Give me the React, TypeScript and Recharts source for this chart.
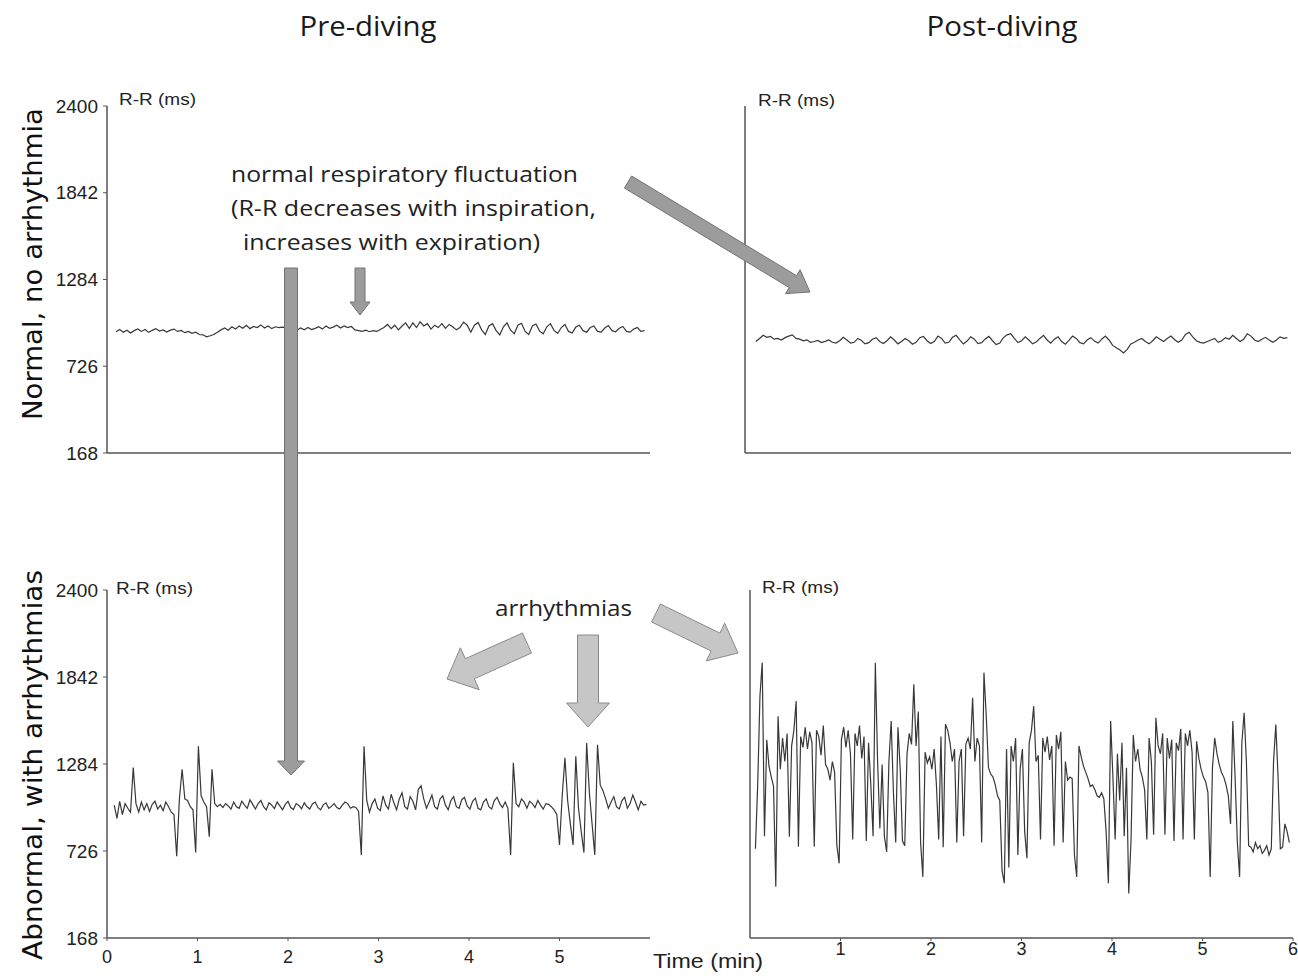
import React from 'react';
import { LineChart, Line, XAxis, YAxis } from 'recharts';

// ---------- axis definitions ----------
const Y_TICKS = [168, 726, 1284, 1842, 2400];
const X_TICKS_ALL = [0, 1, 2, 3, 4, 5, 6];
const BL_X_TICKS = [0, 1, 2, 3, 4, 5];
const BR_X_TICKS = [1, 2, 3, 4, 5, 6];

// ---------- Pre-diving, normal (R-R ms), sampled every 0.04 min from 0.10 min ----------
const TL_START = 0.1;
const TL_STEP = 0.04;
const tlRR = [
  948, 962, 945, 958, 940, 955, 966, 950, 962, 944, 957, 968, 952, 960, 946, 958, 965, 950, 956, 942,
  950, 938, 945, 930, 928, 915, 922, 930,
  945, 960, 972, 958, 980, 965, 985, 970, 990, 968, 982, 975, 992, 972, 985, 968, 980, 975, 978, 972,
  950, 965, 958, 972, 960, 975, 962, 970, 980, 965, 985, 970, 978, 990, 972, 985, 975, 982, 960, 955,
  950, 958, 948, 955, 950, 962, 975, 995, 968, 990, 960, 985, 1005,
  970, 1005, 975, 1012, 985, 1000, 965, 990, 975, 1000, 970, 995, 980, 960, 975, 1010, 990,
  945, 990, 1008, 960, 930, 985, 1000, 955, 928, 980, 1005, 958, 935, 990, 1002, 950, 930, 985, 998, 952,
  935, 980, 1000, 955, 938, 975, 995, 950, 940, 978, 990, 955, 945, 975, 985, 950, 945, 972, 988, 955,
  948, 970, 982, 950, 945, 965, 975, 950, 955,
];

// ---------- Post-diving, normal ----------
const TR_START = 0.12;
const TR_STEP = 0.04;
const trRR = [
  885, 905, 925, 912, 918, 900, 905, 895, 910, 920, 928, 905, 900, 890, 896, 880, 885, 892, 878, 886,
  895, 880, 875,
  890, 912, 895, 875, 880, 905, 892, 870, 878, 900, 910, 885, 872, 890, 915, 895, 870, 885, 905, 890,
  868, 880, 910, 918, 890, 872, 885, 920, 905, 875, 880, 912, 925, 895, 870, 888, 915, 900, 872, 878,
  902, 918, 890, 865, 875, 910, 928, 935, 905, 878, 890, 915, 895, 870, 882,
  905, 925, 895, 875, 900, 915, 885, 868, 892, 920, 905, 878, 870, 895, 910, 888, 875, 900, 920, 895,
  860, 845, 830, 812, 835, 870, 880, 895, 905, 885,
  870, 890, 915, 900, 885, 905, 920, 898, 880, 895, 930, 945, 915, 890, 880, 875, 885, 895, 905, 880,
  890, 910, 900, 925, 905, 885, 900, 935, 920, 895, 885, 900, 912, 895, 880, 895, 915, 905, 910,
];

// ---------- Pre-diving, abnormal ----------
const BL_START = 0.08;
const BL_STEP = 0.03;
const blRR = [
  1020, 935, 1045, 960, 1030, 1000, 975, 1262, 1030, 975,
  1040, 990, 1030, 980, 1025, 1045, 995, 1020, 985, 1040,
  1010, 975, 960, 692, 1060, 1250, 1060, 1050, 1010, 990,
  716, 1398, 1080, 1040, 1010, 818, 1250, 1030, 1010, 1025,
  1005, 1030, 1015, 995, 1040, 1010, 1000, 1045, 1020, 1000,
  1055, 1025, 995, 1030, 1050, 1010, 990, 1035, 1020, 998,
  1040, 1015, 990, 1025, 1045, 1005, 992, 1030, 1018, 996,
  1035, 1010, 995, 1028, 1040, 1006, 990, 1022, 1035, 1000,
  1012, 1030, 1005, 995, 1020, 1040, 1030, 1000, 1010, 1005,
  980, 700, 1398, 1050, 975, 1030,
  1060, 1000, 985, 1080, 1020, 995, 1090, 1035, 990, 1060,
  1100, 1010, 995, 1075, 1045, 990, 1120, 1145, 1060, 1000,
  1040, 1085, 1010, 995, 1060, 1080, 1020, 990, 1050, 1075,
  1010, 1000, 1055, 1070, 1015, 995, 1045, 1065, 1000, 990,
  1040, 1060, 1010, 995, 1050, 1070, 1030, 1005, 1040, 1000,
  700, 1292, 1030,
  1010, 1060, 1040, 1000, 1045, 1030, 1005, 1050, 1020, 995, 1030, 1025, 1010, 990,
  960, 765, 1080, 1324, 1050, 900, 765, 1334, 1000, 850, 716, 1419, 1100, 900, 701, 1408, 1150, 1113, 1060,
  1000, 1040, 1075, 1010, 995, 1050, 1070, 1000, 1030, 1085, 1040, 990, 1045, 1020, 1025,
];

// ---------- Post-diving, abnormal ----------
const BR_START = 0.06;
const BR_STEP = 0.025;
const brRR = [
  740, 1150, 1720, 1934, 820, 1440, 1270, 1200, 1140, 496,
  1590, 1250, 1450, 1300, 1480, 818, 1400, 1500, 1687, 754,
  1460, 1390, 1520, 1380, 1490, 1420, 754, 1500, 1460, 1340,
  1530, 1280, 1250, 1180, 1300, 1230, 760, 647, 1440, 1520,
  1390, 1500, 1350, 800, 1480, 1400, 1530, 1320, 1460, 790,
  1420, 1150, 820, 1934, 1300, 870, 1280, 820, 720, 1300,
  1560, 1100, 780, 1520, 1250, 790, 760, 1350, 1480, 1410,
  1795, 1400, 1620, 780, 560, 1360, 1290, 1330, 1250, 1380,
  1150, 800, 1460, 750, 1540, 1500, 1420, 1300, 1380, 780,
  1300, 1380, 820, 1410, 1450, 1380, 1709, 1300, 1450, 1400,
  780, 1870, 1600, 1260, 1220, 1200, 1150, 1080, 1050, 600,
  520, 1380, 620, 1400, 1300, 1450, 700, 1250, 1380, 850,
  680, 1420, 1500, 1655, 1300, 1340, 800, 1450, 1360, 1460,
  1310, 1400, 760, 1470, 1380, 1490, 780, 1300, 1180, 1200,
  1190, 700, 560, 1400, 1330, 1270, 1230, 1190, 1140, 1150,
  1120, 1080, 1070, 1100, 1060, 850, 520, 1560, 1200, 800,
  1350, 1050, 1420, 820, 1260, 453, 790, 1470, 1300, 1380,
  1250, 1200, 1120, 800, 1450, 1300, 830, 1580, 1400, 1350,
  1480, 830, 1450, 1320, 1440, 790, 1420, 1370, 1510, 800,
  1480, 1400, 1500, 1360, 800, 1430, 1320, 1250, 1200, 1170,
  1100, 560, 1260, 1450, 1350, 1280, 1230, 1200, 1150, 1080,
  900, 1560, 1200, 780, 560, 1420, 1612, 1300, 760, 750,
  720, 780, 740, 760, 710, 730, 760, 700, 740, 1300,
  1537, 1200, 740, 750, 900, 850, 780,
];

const build = (start: number, step: number, vals: number[]) =>
  vals.map((v, i) => ({ t: Math.round((start + i * step) * 1000) / 1000, v }));

const tlData = build(TL_START, TL_STEP, tlRR);
const trData = build(TR_START, TR_STEP, trRR);
const blData = build(BL_START, BL_STEP, blRR);
const brData = build(BR_START, BR_STEP, brRR);

// ---------- layout ----------
const YW = 60;
const XH = 40;
const MT = 10;
const MR = 8;
const AXIS = '#555';
const TICK_FONT = '"Liberation Sans", Arial, sans-serif';

type PanelProps = {
  plotLeft: number;
  plotTop: number;
  plotW: number;
  plotH: number;
  data: { t: number; v: number }[];
  yLabels: boolean;
  xTicks: number[];
  xLabels: boolean;
  xTickMargin?: number;
};

function Panel({ plotLeft, plotTop, plotW, plotH, data, yLabels, xTicks, xLabels, xTickMargin = 6 }: PanelProps) {
  const w = plotW + YW + MR;
  const h = plotH + MT + XH;
  return (
    <div style={{ position: 'absolute', left: plotLeft - YW, top: plotTop - MT, width: w, height: h }}>
      <LineChart width={w} height={h} data={data} margin={{ top: MT, right: MR, bottom: 0, left: 0 }}>
        <XAxis
          dataKey="t"
          type="number"
          domain={[0, 6]}
          ticks={xTicks}
          interval={0}
          allowDataOverflow
          height={XH}
          axisLine={{ stroke: AXIS, strokeWidth: 1.5 }}
          tickLine={{ stroke: AXIS, strokeWidth: 1 }}
          tickSize={3}
          tickMargin={xTickMargin}
          tick={xLabels ? { fill: '#222', fontSize: 18, fontFamily: TICK_FONT } : false}
        />
        <YAxis
          type="number"
          domain={[168, 2400]}
          ticks={Y_TICKS}
          interval={0}
          allowDataOverflow
          width={YW}
          axisLine={{ stroke: AXIS, strokeWidth: 1.5 }}
          tickLine={{ stroke: AXIS, strokeWidth: 1 }}
          tickSize={4}
          tickMargin={5}
          tick={yLabels ? { fill: '#222', fontSize: 19, fontFamily: TICK_FONT } : false}
        />
        <Line
          dataKey="v"
          type="linear"
          stroke="#383838"
          strokeWidth={1.2}
          dot={false}
          isAnimationActive={false}
        />
      </LineChart>
    </div>
  );
}

// ---------- annotation arrows ----------
type Arrow = { x1: number; y1: number; x2: number; y2: number; sw: number; hw: number; hl: number; light: boolean };
const ARROWS: Arrow[] = [
  { x1: 291, y1: 268, x2: 291, y2: 775, sw: 13, hw: 27, hl: 14, light: false },
  { x1: 360, y1: 268, x2: 360, y2: 315, sw: 10, hw: 20, hl: 13, light: false },
  { x1: 628, y1: 182, x2: 810, y2: 292, sw: 14, hw: 28, hl: 20, light: false },
  { x1: 527, y1: 643, x2: 447, y2: 679, sw: 22, hw: 46, hl: 25, light: true },
  { x1: 588, y1: 635, x2: 588, y2: 727, sw: 21, hw: 43, hl: 24, light: true },
  { x1: 656, y1: 613, x2: 738, y2: 653, sw: 20, hw: 42, hl: 25, light: true },
];

function arrowPoints(a: Arrow) {
  const dx = a.x2 - a.x1;
  const dy = a.y2 - a.y1;
  const L = Math.hypot(dx, dy);
  const ux = dx / L;
  const uy = dy / L;
  const px = -uy;
  const py = ux;
  const bx = a.x2 - ux * a.hl;
  const by = a.y2 - uy * a.hl;
  const pts = [
    [a.x1 + (px * a.sw) / 2, a.y1 + (py * a.sw) / 2],
    [bx + (px * a.sw) / 2, by + (py * a.sw) / 2],
    [bx + (px * a.hw) / 2, by + (py * a.hw) / 2],
    [a.x2, a.y2],
    [bx - (px * a.hw) / 2, by - (py * a.hw) / 2],
    [bx - (px * a.sw) / 2, by - (py * a.sw) / 2],
    [a.x1 - (px * a.sw) / 2, a.y1 - (py * a.sw) / 2],
  ];
  return pts.map((p) => `${p[0].toFixed(1)},${p[1].toFixed(1)}`).join(' ');
}

const NOTE_FONT = '"Open Sans", "Noto Sans", sans-serif';

export default function App() {
  return (
    <div style={{ position: 'absolute', left: 0, top: 0, width: 1298, height: 976, background: '#fff', overflow: 'hidden' }}>
      <Panel plotLeft={107} plotTop={106} plotW={543} plotH={347} data={tlData} yLabels xTicks={X_TICKS_ALL} xLabels={false} />
      <Panel plotLeft={745} plotTop={106} plotW={546} plotH={347} data={trData} yLabels={false} xTicks={X_TICKS_ALL} xLabels={false} />
      <Panel plotLeft={107} plotTop={590} plotW={543} plotH={348} data={blData} yLabels xTicks={BL_X_TICKS} xLabels xTickMargin={9} />
      <Panel plotLeft={750} plotTop={590} plotW={543} plotH={348} data={brData} yLabels={false} xTicks={BR_X_TICKS} xLabels xTickMargin={1} />

      <svg width={1298} height={976} style={{ position: 'absolute', left: 0, top: 0, pointerEvents: 'none' }}>
        {/* column titles */}
        <text x={368} y={36} textAnchor="middle" fontFamily={NOTE_FONT} fontSize={27} fill="#1a1a1a" textLength={137} lengthAdjust="spacingAndGlyphs">Pre-diving</text>
        <text x={1002} y={36} textAnchor="middle" fontFamily={NOTE_FONT} fontSize={27} fill="#1a1a1a" textLength={151} lengthAdjust="spacingAndGlyphs">Post-diving</text>

        {/* row labels */}
        <text transform="translate(42,264) rotate(-90)" textAnchor="middle" fontFamily='"DejaVu Sans", sans-serif' fontSize={27} fill="#111" textLength={312} lengthAdjust="spacingAndGlyphs">Normal, no arrhythmia</text>
        <text transform="translate(42,765) rotate(-90)" textAnchor="middle" fontFamily='"DejaVu Sans", sans-serif' fontSize={27} fill="#111" textLength={390} lengthAdjust="spacingAndGlyphs">Abnormal, with arrhythmias</text>

        {/* axis unit labels */}
        <text x={119} y={105} fontFamily={TICK_FONT} fontSize={16} fill="#222" textLength={77} lengthAdjust="spacingAndGlyphs">R-R (ms)</text>
        <text x={758} y={106} fontFamily={TICK_FONT} fontSize={16} fill="#222" textLength={77} lengthAdjust="spacingAndGlyphs">R-R (ms)</text>
        <text x={116} y={594} fontFamily={TICK_FONT} fontSize={16} fill="#222" textLength={77} lengthAdjust="spacingAndGlyphs">R-R (ms)</text>
        <text x={762} y={593} fontFamily={TICK_FONT} fontSize={16} fill="#222" textLength={77} lengthAdjust="spacingAndGlyphs">R-R (ms)</text>
        <text x={653} y={968} fontFamily={TICK_FONT} fontSize={20} fill="#222" textLength={110} lengthAdjust="spacingAndGlyphs">Time (min)</text>

        {/* annotation text */}
        <text x={231} y={182} fontFamily={NOTE_FONT} fontSize={21} fill="#222" textLength={347} lengthAdjust="spacingAndGlyphs">normal respiratory fluctuation</text>
        <text x={231} y={216} fontFamily={NOTE_FONT} fontSize={21} fill="#222" textLength={365} lengthAdjust="spacingAndGlyphs">(R-R decreases with inspiration,</text>
        <text x={243} y={250} fontFamily={NOTE_FONT} fontSize={21} fill="#222" textLength={297} lengthAdjust="spacingAndGlyphs">increases with expiration)</text>
        <text x={495} y={616} fontFamily={NOTE_FONT} fontSize={22} fill="#222" textLength={137} lengthAdjust="spacingAndGlyphs">arrhythmias</text>

        {/* arrows */}
        {ARROWS.map((a, i) => (
          <polygon
            key={i}
            points={arrowPoints(a)}
            fill={a.light ? '#c6c6c6' : '#9c9c9c'}
            stroke={a.light ? '#8a8a8a' : '#727272'}
            strokeWidth={1}
            strokeLinejoin="miter"
          />
        ))}
      </svg>
    </div>
  );
}
